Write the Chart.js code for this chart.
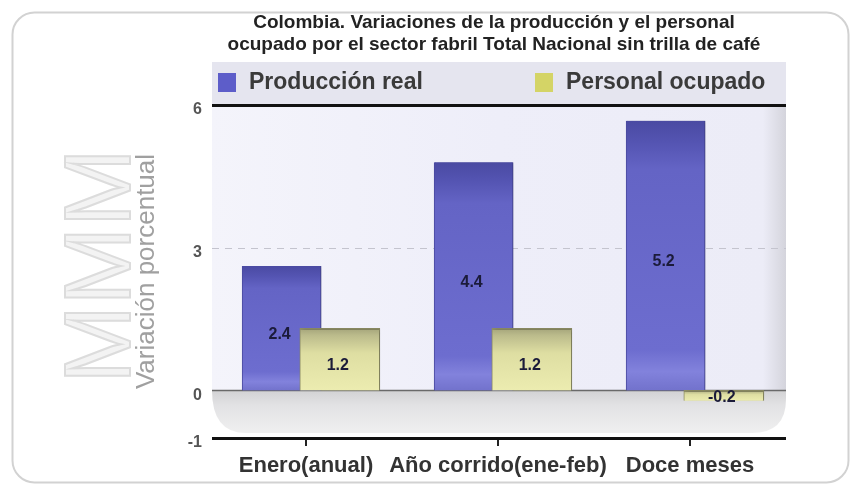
<!DOCTYPE html>
<html>
<head>
<meta charset="utf-8">
<script src="https://cdn.jsdelivr.net/npm/chart.js@4.4.1/dist/chart.umd.min.js"></script>
<style>
  html, body { margin: 0; padding: 0; background: #fff; }
  canvas { display: block; }
</style>
</head>
<body>
<canvas id="chart" width="851" height="485"></canvas>
<script>
// Chart data
const categories = ['Enero(anual)', 'Año corrido(ene-feb)', 'Doce meses'];
const produccionReal = [2.4, 4.4, 5.2];
const personalOcupado = [1.2, 1.2, -0.2];
const yTicks = [-1, 0, 3, 6];
const seriesNames = ['Producción real', 'Personal ocupado'];
const titleLines = [
  'Colombia. Variaciones de la producción y el personal',
  'ocupado por el sector fabril Total Nacional sin trilla de café'
];
const yTitle = 'Variación porcentual';

// 3D look of the original: bars stand a bit in front of the back wall
const DEPTH = 1.09;
const SHIFT_BLUE = 0.127;
const SHIFT_YELLOW = -0.176;
const FONT = '"Liberation Sans", Arial, sans-serif';

function barGradient(context, stops, fallback) {
  const chart = context.chart;
  const yd = chart.scales.yd;
  if (!chart.chartArea || !yd || context.parsed == null) return fallback;
  const top = yd.getPixelForValue(Math.max(context.parsed.y, 0));
  const bottom = yd.getPixelForValue(Math.min(context.parsed.y, 0));
  if (!isFinite(top) || !isFinite(bottom) || top === bottom) return fallback;
  const g = chart.ctx.createLinearGradient(0, top, 0, bottom);
  stops.forEach(s => g.addColorStop(s[0], s[1]));
  return g;
}

const blueStops = [[0, '#4a4aa2'], [0.08, '#5454b2'], [0.18, '#6464c5'], [0.85, '#6d6dcf'], [0.93, '#8282dc'], [1, '#7272cc']];
const yellowStops = [[0, '#a4a47a'], [0.12, '#bcbc8c'], [0.4, '#dedea2'], [1, '#ececb0']];

// backgrounds, frame lines, legend band and watermark
const decor = {
  id: 'decor',
  beforeDraw(chart) {
    const { ctx, chartArea: a, scales } = chart;
    const y = scales.y;
    const y6 = y.getPixelForValue(yTicks[yTicks.length - 1]);
    const y0 = y.getPixelForValue(0);
    const yBottom = y.getPixelForValue(yTicks[0]);
    ctx.save();
    ctx.fillStyle = '#fff';
    ctx.fillRect(0, 0, chart.width, chart.height);

    // outer rounded frame
    ctx.beginPath();
    ctx.roundRect(12.5, 12.5, 836, 470, 22);
    ctx.strokeStyle = '#d2d2d2';
    ctx.lineWidth = 2;
    ctx.stroke();

    // watermark
    ctx.save();
    ctx.translate(130, 266);
    ctx.rotate(-Math.PI / 2);
    ctx.font = '94px ' + FONT;
    ctx.textAlign = 'center';
    ctx.textBaseline = 'alphabetic';
    ctx.fillStyle = '#f3f3f3';
    ctx.fillText('MMM', 0, 0);
    ctx.strokeStyle = '#dcdcdc';
    ctx.lineWidth = 2;
    ctx.strokeText('MMM', 0, 0);
    ctx.restore();

    // legend band
    ctx.fillStyle = '#e5e5ef';
    ctx.fillRect(a.left + 2, 62, a.right - a.left - 2, y6 - 62);

    // back wall
    const wall = ctx.createLinearGradient(a.left, 0, a.right, 0);
    wall.addColorStop(0, '#f4f4fb');
    wall.addColorStop(0.5, '#eeeef9');
    wall.addColorStop(0.96, '#ececf7');
    wall.addColorStop(1, '#d4d4dc');
    ctx.fillStyle = wall;
    ctx.fillRect(a.left + 2, y6, a.right - a.left - 2, y0 - y6);

    // floor shelf
    const floorBottom = yBottom - 5;
    const r = 34;
    ctx.beginPath();
    ctx.moveTo(a.left + 2, y0);
    ctx.lineTo(a.right, y0);
    ctx.lineTo(a.right, floorBottom - r);
    ctx.quadraticCurveTo(a.right, floorBottom, a.right - r, floorBottom);
    ctx.lineTo(a.left + 2 + r, floorBottom);
    ctx.quadraticCurveTo(a.left + 2, floorBottom, a.left + 2, y0);
    ctx.closePath();
    const floor = ctx.createLinearGradient(0, y0, 0, floorBottom);
    floor.addColorStop(0, '#d2d2d4');
    floor.addColorStop(0.35, '#e2e2e4');
    floor.addColorStop(1, '#f0f0f0');
    ctx.fillStyle = floor;
    ctx.fill();
    ctx.restore();
  },
  beforeDatasetsDraw(chart) {
    const { ctx, chartArea: a, scales } = chart;
    ctx.save();
    yTicks.forEach((v, i) => {
      const py = Math.round(scales.y.getPixelForValue(v)) + 0.5;
      ctx.beginPath();
      if (i === 0 || i === yTicks.length - 1) {
        ctx.strokeStyle = '#111';
        ctx.lineWidth = 3;
        ctx.setLineDash([]);
      } else if (v === 0) {
        ctx.strokeStyle = '#6a6a6a';
        ctx.lineWidth = 1.5;
        ctx.setLineDash([]);
      } else {
        ctx.strokeStyle = '#c4c4ce';
        ctx.lineWidth = 1;
        ctx.setLineDash([7, 6]);
      }
      ctx.moveTo(a.left + 2, py);
      ctx.lineTo(a.right, py);
      ctx.stroke();
    });
    ctx.restore();
  },
  beforeDatasetDraw(chart) {
    const ctx = chart.ctx;
    ctx.save();
    ctx.shadowColor = 'rgba(0,0,0,0.22)';
    ctx.shadowOffsetX = 3;
    ctx.shadowOffsetY = 0;
    ctx.shadowBlur = 4;
  },
  afterDatasetDraw(chart) {
    chart.ctx.restore();
  },
  afterDatasetsDraw(chart) {
    const { ctx } = chart;
    ctx.save();
    ctx.font = 'bold 16px ' + FONT;
    ctx.fillStyle = '#1b1b3a';
    ctx.textAlign = 'center';
    ctx.textBaseline = 'middle';
    chart.data.datasets.forEach((ds, di) => {
      const meta = chart.getDatasetMeta(di);
      meta.data.forEach((el, i) => {
        const v = ds.data[i].y;
        const cy = (el.y + el.base) / 2 + (v < 0 ? 2 : 6);
        ctx.fillText(v.toFixed(1), el.x - 2, cy);
      });
    });
    ctx.restore();
  },
  afterDraw(chart) {
    const { ctx, chartArea: a } = chart;
    ctx.save();
    // title
    ctx.font = 'bold 19px ' + FONT;
    ctx.fillStyle = '#222';
    ctx.textAlign = 'center';
    ctx.textBaseline = 'middle';
    const cx = (a.left + a.right) / 2 - 4;
    titleLines.forEach((t, i) => ctx.fillText(t, cx, 23 + i * 22));

    // legend
    const items = [
      { x: a.left + 8, color: '#5d5dc9', text: seriesNames[0] },
      { x: a.left + 325, color: '#d4d466', text: seriesNames[1] }
    ];
    ctx.font = 'bold 23px ' + FONT;
    ctx.textAlign = 'left';
    items.forEach(it => {
      ctx.fillStyle = it.color;
      ctx.fillRect(it.x, 73, 18, 19);
      ctx.fillStyle = '#3a3a3a';
      ctx.fillText(it.text, it.x + 31, 83);
    });
    ctx.restore();
  }
};

const ctx = document.getElementById('chart').getContext('2d');
const chart = new Chart(ctx, {
  type: 'bar',
  data: {
    labels: categories,
    datasets: [
      {
        label: seriesNames[0],
        data: categories.map((c, i) => ({ x: i, y: produccionReal[i] })),
        xAxisID: 'xb',
        yAxisID: 'yd',
        order: 1,
        grouped: false,
        barThickness: 79,
        backgroundColor: c => barGradient(c, blueStops, '#6a6acd'),
        borderColor: '#4a4aa0',
        borderWidth: { left: 1, right: 1, top: 0, bottom: 0 },
        borderSkipped: false
      },
      {
        label: seriesNames[1],
        data: categories.map((c, i) => ({ x: i, y: personalOcupado[i] })),
        xAxisID: 'xy',
        yAxisID: 'yd',
        order: 0,
        grouped: false,
        barThickness: 80,
        backgroundColor: c => barGradient(c, yellowStops, '#e4e4a6'),
        borderColor: '#8e8e66',
        borderWidth: { left: 1, right: 1, top: 2, bottom: 0 },
        borderSkipped: false
      }
    ]
  },
  options: {
    responsive: false,
    animation: false,
    layout: { padding: { left: 131, right: 65, top: 105, bottom: 0 } },
    plugins: {
      legend: { display: false },
      title: { display: false },
      tooltip: { enabled: false }
    },
    scales: {
      x: {
        type: 'category',
        offset: true,
        grid: { display: true, drawOnChartArea: false, offset: false, color: '#222', lineWidth: 2, tickLength: 8 },
        border: { display: false },
        ticks: { color: '#333', padding: 7, autoSkip: false, maxRotation: 0, minRotation: 0, font: { family: FONT, size: 22, weight: 'bold' } },
        afterFit: s => { s.height = 47; }
      },
      xb: { type: 'linear', display: false, offset: false, min: -0.5 + SHIFT_BLUE, max: categories.length - 0.5 + SHIFT_BLUE },
      xy: { type: 'linear', display: false, offset: false, min: -0.5 + SHIFT_YELLOW, max: categories.length - 0.5 + SHIFT_YELLOW },
      y: {
        type: 'linear',
        position: 'left',
        min: yTicks[0],
        max: yTicks[yTicks.length - 1],
        afterBuildTicks: s => { s.ticks = yTicks.map(v => ({ value: v })); },
        grid: { display: false, drawTicks: false },
        border: { display: false },
        ticks: { color: '#555', padding: 8, labelOffset: 5, font: { family: FONT, size: 16, weight: 'bold' } },
        title: { display: true, text: yTitle, color: '#a0a0a0', padding: 0, font: { family: FONT, size: 26 } },
        afterFit: s => { s.width = 79; }
      },
      yd: { type: 'linear', display: false, min: yTicks[0] / DEPTH, max: yTicks[yTicks.length - 1] / DEPTH }
    }
  },
  plugins: [decor]
});
</script>
</body>
</html>
